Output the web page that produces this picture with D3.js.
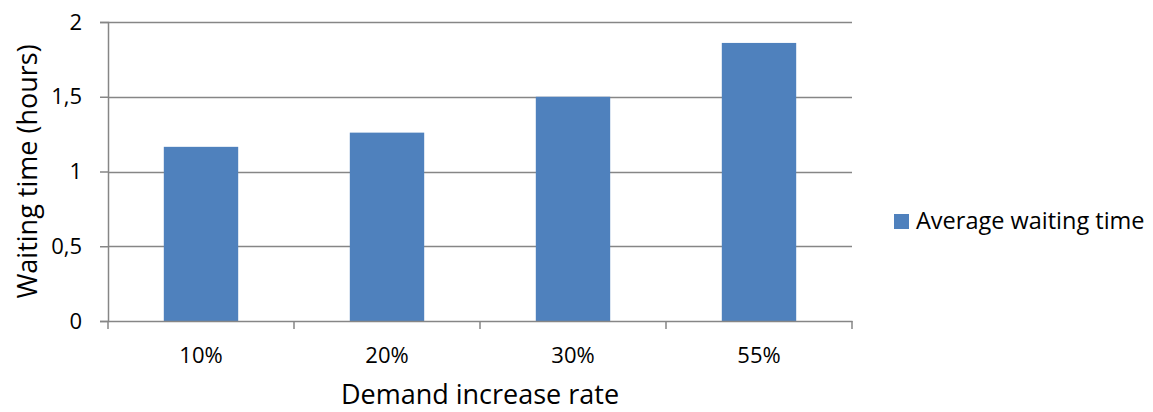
<!DOCTYPE html>
<html><head><meta charset="utf-8">
<script src="https://cdn.jsdelivr.net/npm/d3@7"></script>
<style>body{margin:0;background:#fff;} text{font-family:"Open Sans",sans-serif;fill:#000;}</style>
</head><body><svg id="c" width="1153" height="412"></svg>
<script>
const categories = ["10%", "20%", "30%", "55%"];
const values = [1.165, 1.26, 1.5, 1.86];
const yTicks = [0, 0.5, 1, 1.5, 2];
const yTickLabels = ["0", "0,5", "1", "1,5", "2"];
const seriesName = "Average waiting time";
const xTitle = "Demand increase rate";
const yTitle = "Waiting time (hours)";

const svg = d3.select("#c");
const L = 108, R = 852, T = 22, B = 321;
const grid = "#868686";
const x = d3.scaleBand().domain(categories).range([L, R]).paddingInner(0.6).paddingOuter(0.3);
const xb = d3.scaleBand().domain(categories).range([L, R]).padding(0);
const y = d3.scaleLinear().domain([0, 2]).range([B, T]);

// gridlines
svg.append("g").selectAll("line").data(yTicks.filter(d => d > 0)).join("line")
  .attr("x1", L).attr("x2", R).attr("y1", d => Math.round(y(d)) + 0.5).attr("y2", d => Math.round(y(d)) + 0.5)
  .attr("stroke", grid).attr("stroke-width", 1.5);

// bars
svg.append("g").selectAll("rect").data(values).join("rect")
  .attr("x", (d, i) => x(categories[i])).attr("width", x.bandwidth())
  .attr("y", d => y(d)).attr("height", d => B - y(d))
  .attr("fill", "#4F81BD");

// y axis
const yAxis = svg.append("g").attr("transform", `translate(${L},0)`)
  .call(d3.axisLeft(y).tickValues(yTicks).tickFormat((d, i) => yTickLabels[i]).tickSize(8).tickPadding(18));
yAxis.select(".domain").attr("stroke", grid).attr("stroke-width", 1.5);
yAxis.selectAll(".tick line").attr("stroke", grid).attr("stroke-width", 1.5);
yAxis.selectAll("text").style("font-size", "22px").attr("fill", "#000");

// x axis
const xAxis = svg.append("g").attr("transform", `translate(0,${B})`)
  .call(d3.axisBottom(xb).tickSize(0).tickPadding(26));
xAxis.select(".domain").attr("stroke", grid).attr("stroke-width", 1.5);
xAxis.selectAll("text").style("font-size", "22px").attr("fill", "#000");
// x tick marks at band boundaries
const bounds = categories.map(c => xb(c)).concat([R]);
svg.append("g").selectAll("line").data(bounds).join("line")
  .attr("x1", d => d).attr("x2", d => d).attr("y1", B).attr("y2", B + 8)
  .attr("stroke", grid).attr("stroke-width", 1.5);

// titles
svg.append("text").attr("x", (L + R) / 2).attr("y", 404).attr("text-anchor", "middle")
  .style("font-size", "27px").text(xTitle);
svg.append("text").attr("transform", `translate(37,${(T + B) / 2}) rotate(-90)`).attr("text-anchor", "middle")
  .style("font-size", "27px").text(yTitle);

// legend
svg.append("rect").attr("x", 894).attr("y", 214).attr("width", 15).attr("height", 15).attr("fill", "#4F81BD");
svg.append("text").attr("x", 916).attr("y", 229).style("font-size", "23.5px").text(seriesName);
</script></body></html>
